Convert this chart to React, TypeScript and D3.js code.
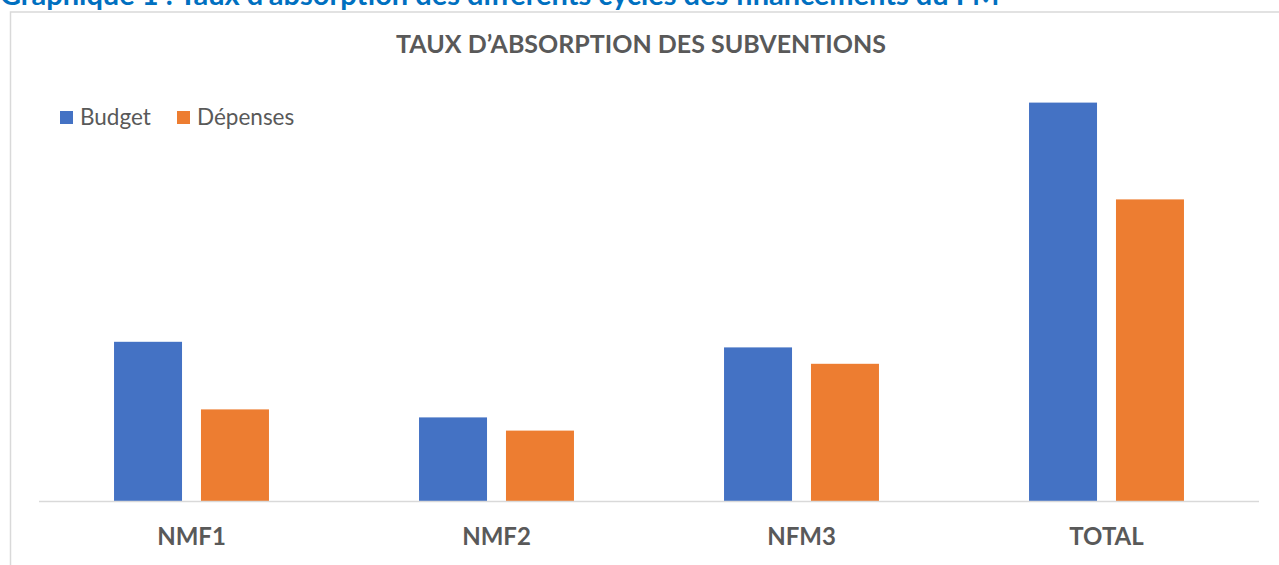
import React from "react";
import * as d3 from "d3";

// categories + series (millions, estimated)
const categories = ["NMF1", "NMF2", "NFM3", "TOTAL"];
const seriesNames = ["Budget", "Dépenses"];
const budget = [39.8, 20.9, 38.4, 99.6];
const depenses = [22.9, 17.6, 34.3, 75.4];
const colors = ["#4472C4", "#ED7D31"];

const W = 1279;
const H = 565;
const FONT = "Lato, Carlito, 'Open Sans', sans-serif";

const App = () => {
  const rows = categories.map((c, i) => ({ cat: c, values: [budget[i], depenses[i]] }));

  const x0 = d3.scaleBand().domain(categories).range([39, 1259]).paddingInner(0.492).paddingOuter(0.246);
  const x1 = d3.scaleBand().domain(seriesNames).range([0, x0.bandwidth()]).paddingInner(0.218);
  const y = d3.scaleLinear().domain([0, 100]).range([501, 101]);

  return (
    <div style={{ position: "fixed", top: 0, left: 0, width: W, height: H, background: "#fff" }}>
      <svg width={W} height={H} style={{ display: "block" }}>
        {/* caption of the document, cut off at the top like in the scan */}
        <text x={0} y={5} fill="#0070C0" fontFamily={FONT} fontWeight="bold" fontSize={29}>
          Graphique 1 : Taux d’absorption des différents cycles des financements du FM
        </text>

        {/* chart frame */}
        <rect x={10.5} y={12} width={W + 20} height={H + 20} fill="#fff" stroke="#d9d9d9" strokeWidth={1.5} />

        <text x={641} y={53} textAnchor="middle" fill="#595959" fontFamily={FONT} fontWeight="bold" fontSize={25}>
          TAUX D’ABSORPTION DES SUBVENTIONS
        </text>

        {/* legend */}
        <g fontFamily={FONT} fontSize={22.5} fill="#595959">
          <rect x={60} y={111} width={13} height={13} fill={colors[0]} />
          <text x={80} y={125}>{seriesNames[0]}</text>
          <rect x={177} y={111} width={13} height={13} fill={colors[1]} />
          <text x={197} y={125}>{seriesNames[1]}</text>
        </g>

        {rows.map((r) => (
          <g key={r.cat} transform={`translate(${x0(r.cat)},0)`}>
            {r.values.map((v, j) => (
              <rect
                key={j}
                x={x1(seriesNames[j])}
                y={y(v)}
                width={x1.bandwidth()}
                height={y(0) - y(v)}
                fill={colors[j]}
              />
            ))}
          </g>
        ))}

        <line x1={39} x2={1259} y1={501.5} y2={501.5} stroke="#d9d9d9" strokeWidth={1.5} />

        {categories.map((c) => (
          <text
            key={c}
            x={(x0(c) as number) + x0.bandwidth() / 2}
            y={545}
            textAnchor="middle"
            fill="#595959"
            fontFamily={FONT}
            fontWeight="bold"
            fontSize={24}
          >
            {c}
          </text>
        ))}
      </svg>
    </div>
  );
};

export default App;
